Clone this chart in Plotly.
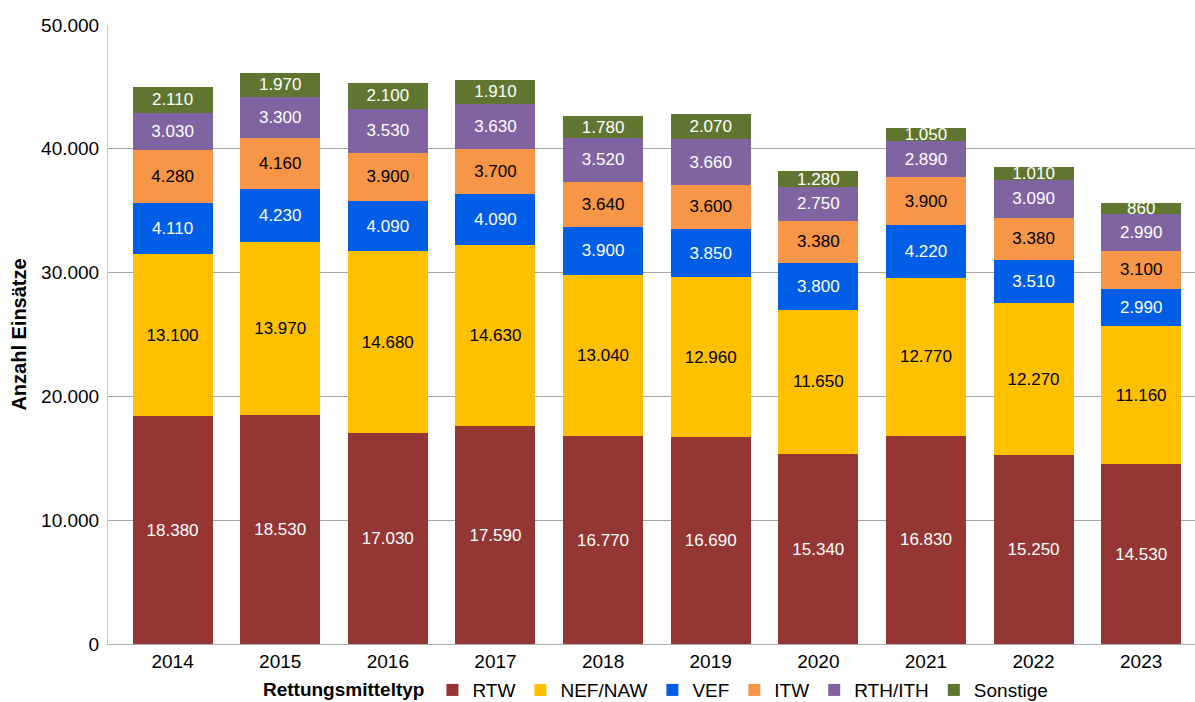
import plotly.graph_objects as go

years = ["2014", "2015", "2016", "2017", "2018", "2019", "2020", "2021", "2022", "2023"]

rtw = [18380, 18530, 17030, 17590, 16770, 16690, 15340, 16830, 15250, 14530]
nef_naw = [13100, 13970, 14680, 14630, 13040, 12960, 11650, 12770, 12270, 11160]
vef = [4110, 4230, 4090, 4090, 3900, 3850, 3800, 4220, 3510, 2990]
itw = [4280, 4160, 3900, 3700, 3640, 3600, 3380, 3900, 3380, 3100]
rth_ith = [3030, 3300, 3530, 3630, 3520, 3660, 2750, 2890, 3090, 2990]
sonstige = [2110, 1970, 2100, 1910, 1780, 2070, 1280, 1050, 1010, 860]

series = [
    ("RTW", rtw, "#943634", "white"),
    ("NEF/NAW", nef_naw, "#FFC000", "black"),
    ("VEF", vef, "#005EE6", "white"),
    ("ITW", itw, "#F79646", "black"),
    ("RTH/ITH", rth_ith, "#8064A2", "white"),
    ("Sonstige", sonstige, "#5F7530", "white"),
]

FONT = "Liberation Sans, Arial, sans-serif"

fig = go.Figure()
for name, vals, color, tcolor in series:
    fig.add_trace(go.Bar(
        x=years, y=vals, name=name,
        marker=dict(color=color, line=dict(width=0)),
        texttemplate="%{y:,}",
        textposition="inside",
        insidetextanchor="middle",
        textfont=dict(family=FONT, size=17, color=tcolor),
        constraintext="none",
        hoverinfo="skip",
    ))

fig.update_layout(
    barmode="stack",
    bargap=0.257,
    separators=",.",
    width=1195, height=702,
    margin=dict(l=108, r=0, t=25, b=58, autoexpand=False),
    paper_bgcolor="white",
    plot_bgcolor="white",
    font=dict(family=FONT, size=19, color="black"),
    uniformtext=dict(minsize=17, mode="show"),
    legend=dict(
        orientation="h",
        x=0.505, xanchor="center",
        yref="container",
        y=0.017, yanchor="middle",
        title=dict(text="<b>Rettungsmitteltyp</b>", font=dict(size=19)),
        font=dict(size=19),
        itemwidth=30,
        tracegroupgap=0,
        traceorder="normal",
    ),
    showlegend=True,
)

fig.update_yaxes(
    range=[0, 50000],
    dtick=10000,
    tickformat=",",
    showgrid=True,
    gridcolor="#A6A6A6",
    gridwidth=1,
    showline=True,
    linecolor="#C8C8C8",
    zeroline=False,
    ticks="",
    ticklabelstandoff=4,
    tickfont=dict(size=19),
    title=dict(text="<b>Anzahl Einsätze</b>", font=dict(size=20), standoff=9),
)
fig.update_xaxes(
    range=[-0.6, 9.5],
    showline=True,
    linecolor="#B0B0B0",
    ticks="",
    tickfont=dict(size=19),
)

fig.write_html("out.html")
